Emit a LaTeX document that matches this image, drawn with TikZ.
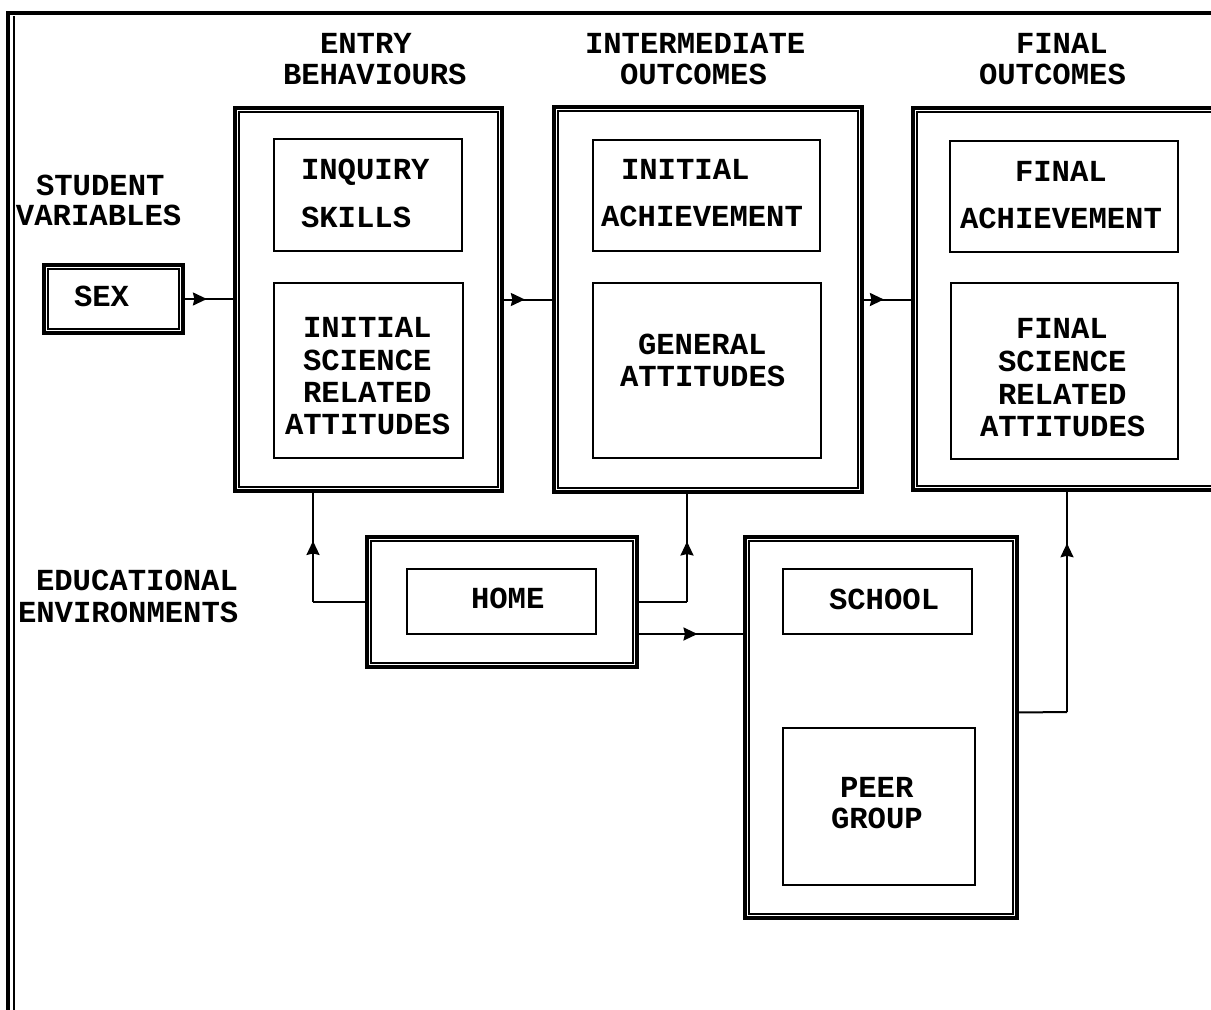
\documentclass[tikz,border=0pt]{standalone}
\usepackage{fontspec}
\newfontfamily\tfont{Liberation Mono}
\usetikzlibrary{arrows.meta,decorations.markings}
\tikzset{
  outerbox/.style={draw, line width=3.4pt, inner sep=0pt, outer sep=0pt, anchor=north west},
  innerbox/.style={draw, line width=2.2pt, inner sep=0pt, outer sep=0pt, anchor=north west},
  lbl/.style={inner sep=0pt, outer sep=0pt, anchor=west, text height=17.5pt, text depth=0pt,
    font=\tfont\bfseries\fontsize{30.6}{31}\selectfont},
  conn/.style={line width=2pt},
  arrowat/.style={conn, decoration={markings, mark=at position #1 with {\arrow{Stealth[length=14pt,width=13pt,inset=1.5pt]}}}, postaction={decorate}},
}
\newcommand\frameinner[1]{\draw[line width=2pt] ([shift={(4.4,4.4)}]#1.north west) rectangle ([shift={(-4.4,-4.4)}]#1.south east);}
\begin{document}
\begin{tikzpicture}[x=1pt,y=-1pt]
\useasboundingbox (0,0) rectangle (1211,1010);
\clip (0,0) rectangle (1211,1010);
% page frame
\draw[line width=3.5pt] (8,1030) -- (8,13) -- (1230,13);
\draw[line width=2pt] (14,16) -- (14,1030);

% headers
\node[lbl] (h1a) at (320,45) {ENTRY};
\node[lbl] (h1b) at (283,76) {BEHAVIOURS};
\node[lbl] (h2a) at (585,45) {INTERMEDIATE};
\node[lbl] (h2b) at (620,76) {OUTCOMES};
\node[lbl] (h3a) at (1016,45) {FINAL};
\node[lbl] (h3b) at (979,76) {OUTCOMES};

\node[lbl] (sv1) at (36,187) {STUDENT};
\node[lbl] (sv2) at (16,217) {VARIABLES};
\node[lbl] (ee1) at (36,582) {EDUCATIONAL};
\node[lbl] (ee2) at (18,614) {ENVIRONMENTS};

% big boxes
\node[outerbox, minimum width=139pt, minimum height=68pt] (sex) at (44,265) {};
\frameinner{sex}
\node[lbl] (sext) at (74,298) {SEX};

\node[outerbox, minimum width=267pt, minimum height=383pt] (eb) at (235,108) {};
\frameinner{eb}
\node[outerbox, minimum width=308pt, minimum height=385pt] (io) at (554,107) {};
\frameinner{io}
\node[outerbox, minimum width=330pt, minimum height=382pt] (fo) at (913,108) {};
\frameinner{fo}
\node[outerbox, minimum width=270pt, minimum height=130pt] (home) at (367,537) {};
\frameinner{home}
\node[outerbox, minimum width=272pt, minimum height=381pt] (school) at (745,537) {};
\frameinner{school}

% inner boxes
\node[innerbox, minimum width=188pt, minimum height=112pt] (inq) at (274,139) {};
\node[innerbox, minimum width=189pt, minimum height=175pt] (isra) at (274,283) {};
\node[innerbox, minimum width=227pt, minimum height=111pt] (iach) at (593,140) {};
\node[innerbox, minimum width=228pt, minimum height=175pt] (gatt) at (593,283) {};
\node[innerbox, minimum width=228pt, minimum height=111pt] (fach) at (950,141) {};
\node[innerbox, minimum width=227pt, minimum height=176pt] (fsra) at (951,283) {};
\node[innerbox, minimum width=189pt, minimum height=65pt] (homein) at (407,569) {};
\node[innerbox, minimum width=189pt, minimum height=65pt] (schoolin) at (783,569) {};
\node[innerbox, minimum width=192pt, minimum height=157pt] (peer) at (783,728) {};

% texts
\node[lbl] (t1) at (301,171) {INQUIRY};
\node[lbl] (t2) at (301,219) {SKILLS};
\node[lbl] (t3) at (303,329) {INITIAL};
\node[lbl] (t4) at (303,362) {SCIENCE};
\node[lbl] (t5) at (303,394) {RELATED};
\node[lbl] (t6) at (285,426) {ATTITUDES};
\node[lbl] (t7) at (621,171) {INITIAL};
\node[lbl] (t8) at (601,218) {ACHIEVEMENT};
\node[lbl] (t9) at (638,346) {GENERAL};
\node[lbl] (t10) at (620,378) {ATTITUDES};
\node[lbl] (t11) at (1015,173) {FINAL};
\node[lbl] (t12) at (960,220) {ACHIEVEMENT};
\node[lbl] (t13) at (1016,330) {FINAL};
\node[lbl] (t14) at (998,363) {SCIENCE};
\node[lbl] (t15) at (998,396) {RELATED};
\node[lbl] (t16) at (980,428) {ATTITUDES};
\node[lbl] (t17) at (471,600) {HOME};
\node[lbl] (t18) at (829,601) {SCHOOL};
\node[lbl] (t19) at (840,789) {PEER};
\node[lbl] (t20) at (831,820) {GROUP};

% connectors
\draw[arrowat=0.46] (sex.east) -- (sex.east -| eb.west);
\draw[arrowat=0.44] (eb.east) -- (eb.east -| io.west);
\draw[arrowat=0.43] (io.east |- eb.east) -- (eb.east -| fo.west);

\coordinate (hl) at (313,602);
\coordinate (hr) at (687,602);
\coordinate (sf) at (1067,712);
\draw[conn] (home.west) -- (hl);
\draw[arrowat=0.55] (hl) -- (hl |- eb.south);
\draw[conn] (home.east) -- (hr);
\draw[arrowat=0.55] (hr) -- (hr |- io.south);
\draw[arrowat=0.56] ([yshift=-32pt]home.east) -- ([yshift=-32pt]home.east -| school.west);
\draw[conn] ([yshift=15pt]school.east) -- (sf);
\draw[arrowat=0.76] (sf) -- (sf |- fo.south);
\end{tikzpicture}
\end{document}
